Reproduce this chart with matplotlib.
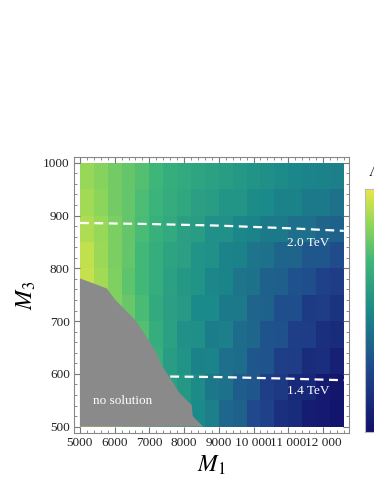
import numpy as np
import matplotlib
matplotlib.use("Agg")
import matplotlib.pyplot as plt
from matplotlib.colors import LinearSegmentedColormap
from matplotlib.ticker import MultipleLocator

plt.rcParams['font.family'] = ['Liberation Serif', 'DejaVu Serif']
plt.rcParams['mathtext.fontset'] = 'stix'

# cell edges of the density plot
m1_edges = [5000, 5400, 5800, 6200, 6600, 7000, 7400, 7800, 8200, 8600,
            9000, 9400, 9800, 10200, 10600, 11000, 11400, 11800, 12200, 12600]
m3_edges = [500, 550, 600, 650, 700, 750, 800, 850, 900, 950, 1000]

# colour value (0-100), rows from M3=500 upwards
z = [
    [90, 88, 85, 80, 75, 68, 60, 55, 50, 46, 37, 35, 26, 23, 15, 13, 6, 5, 2],
    [90, 88, 84, 80, 74, 67, 60, 56, 51, 43, 41, 33, 31, 22, 19, 12, 11, 5, 3],
    [91, 88, 84, 80, 74, 67, 58, 54, 47, 48, 40, 39, 31, 30, 22, 21, 13, 14, 8],
    [92, 88, 84, 80, 74, 66, 60, 53, 52, 45, 46, 39, 37, 30, 29, 22, 21, 15, 13],
    [93, 87, 82, 78, 72, 64, 59, 57, 50, 50, 44, 44, 36, 35, 28, 28, 20, 21, 17],
    [94, 88, 82, 76, 71, 66, 60, 56, 54, 49, 48, 42, 41, 35, 34, 29, 28, 23, 21],
    [93, 87, 81, 77, 71, 66, 61, 59, 54, 53, 48, 47, 42, 41, 36, 36, 31, 31, 27],
    [90, 86, 81, 77, 72, 67, 64, 59, 58, 53, 53, 49, 48, 44, 44, 40, 40, 36, 35],
    [88, 84, 80, 77, 73, 69, 65, 63, 59, 58, 55, 55, 51, 50, 47, 47, 44, 44, 41],
    [86, 83, 80, 77, 74, 70, 66, 64, 62, 60, 58, 56, 54, 52, 51, 49, 48, 47, 46],
]

# region without solutions (M1, M3)
nosol_m1 = [5000, 5000, 5770, 6010, 6590, 6920, 7210, 7350, 7880, 8220, 8250, 8550]
nosol_m3 = [500, 781, 762, 741, 702, 670, 639, 617, 563, 541, 520, 500]

# dashed contours
c20_m1 = [5000, 7000, 9000, 11000, 12600]
c20_m3 = [886, 884, 881, 876, 871]
c14_m1 = [7600, 9000, 11000, 12600]
c14_m3 = [595, 594, 591, 588]

xticks = [5000, 6000, 7000, 8000, 9000, 10000, 11000, 12000]
xticklabels = ['5000', '6000', '7000', '8000', '9000', '10 000', '11 000', '12 000']
yticks = [500, 600, 700, 800, 900, 1000]

cmap = LinearSegmentedColormap.from_list('bgy', [
    (0.0, '#12106a'), (0.25, '#20468c'), (0.5, '#1b8a8a'),
    (0.7, '#3db67a'), (0.85, '#8fd65a'), (1.0, '#e8e845')])

fig = plt.figure(figsize=(3.74, 4.84), dpi=100)
ax = fig.add_axes([74 / 374, 51 / 484, 275 / 374, 276 / 484])

ax.pcolormesh(m1_edges, m3_edges, np.array(z), cmap=cmap, vmin=0, vmax=100,
              shading='flat', edgecolors='none')
ax.fill(nosol_m1, nosol_m3, color='#8a8a8a', lw=0, zorder=3)
ax.plot(c20_m1, c20_m3, color='white', ls=(0, (4, 2.5)), lw=1.6, zorder=4)
ax.plot(c14_m1, c14_m3, color='white', ls=(0, (4, 2.5)), lw=1.6, zorder=4)

ax.text(11570, 848, '2.0 TeV', color='white', fontsize=9.5, ha='center', va='center', zorder=5)
ax.text(11570, 568, '1.4 TeV', color='white', fontsize=9.5, ha='center', va='center', zorder=5)
ax.text(6230, 549, 'no solution', color='white', fontsize=9.5, ha='center', va='center', zorder=5)

ax.set_xlim(4830, 12750)
ax.set_ylim(488, 1011)
ax.set_xticks(xticks)
ax.set_xticklabels(xticklabels)
ax.set_yticks(yticks)
ax.xaxis.set_minor_locator(MultipleLocator(200))
ax.yaxis.set_minor_locator(MultipleLocator(20))
ax.tick_params(which='both', direction='in', top=True, right=True, color='#777777',
               labelsize=9.5, pad=3, labelcolor='#222222')
ax.tick_params(which='major', length=4)
ax.tick_params(which='minor', length=2)
for s in ax.spines.values():
    s.set_color('#888888')

ax.set_xlabel('$M_1$', fontsize=17, labelpad=3)
ax.set_ylabel('$M_3$', fontsize=17, labelpad=4)

# colour bar, mostly cut off by the figure edge
cax = fig.add_axes([365 / 374, 52 / 484, 0.06, 243 / 484])
cax.imshow(np.linspace(0, 1, 256).reshape(-1, 1), cmap=cmap, aspect='auto', origin='lower')
cax.set_xticks([])
cax.set_yticks([])
for s in cax.spines.values():
    s.set_color('#bbbbbb')
fig.text(368 / 374, 1 - 172 / 484, r'$\Lambda$', fontsize=11, ha='left', va='center')

fig.savefig('out.png', dpi=100)
